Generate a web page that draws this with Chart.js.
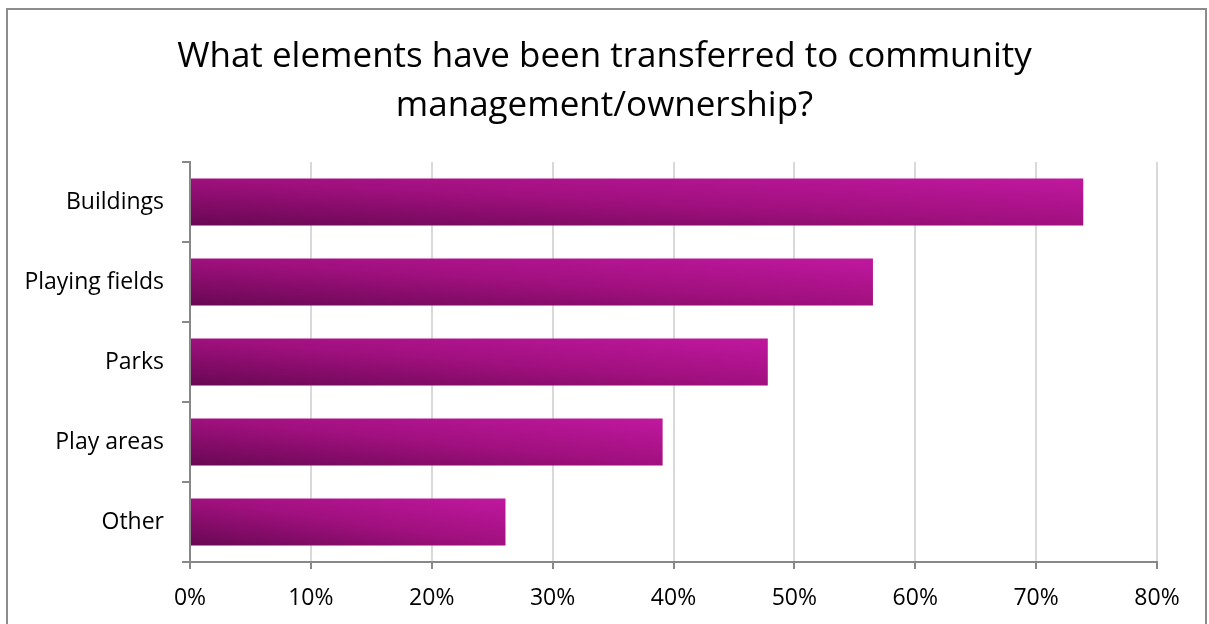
<!DOCTYPE html>
<html lang="en">

<head>
    <meta charset="UTF-8">
    <title>Community management / ownership transfers</title>
    <style>
        html, body { margin: 0; padding: 0; background: #fff; overflow: hidden; }
        #frame {
            position: absolute; left: 6px; top: 8px; width: 1197px; height: 700px;
            border: 2px solid #8c8c8c; pointer-events: none;
        }
        #chart { position: absolute; left: 0; top: 0; }
    </style>
</head>

<body>
    <canvas id="chart" width="1209" height="624"></canvas>
    <div id="frame"></div>

    <script src="https://cdn.jsdelivr.net/npm/chart.js@4/dist/chart.umd.min.js"></script>
    <script>
        const categories = ['Buildings', 'Playing fields', 'Parks', 'Play areas', 'Other'];
        const shares = [73.9, 56.5, 47.8, 39.1, 26.1];   // % of respondents
        const tickValues = [0, 10, 20, 30, 40, 50, 60, 70, 80];

        const FONT = '"Open Sans", "Noto Sans", sans-serif';

        // diagonal shading: dark at the bottom-left corner, bright magenta at top-right
        function barFill(context) {
            const chart = context.chart;
            const xs = chart.scales.x, ys = chart.scales.y;
            if (!xs || !ys || xs.width === undefined) return '#a0107e';
            const v = context.parsed ? context.parsed.x : shares[context.dataIndex];
            const x0 = xs.getPixelForValue(0);
            const x1 = xs.getPixelForValue(v);
            const yc = ys.getPixelForValue(context.dataIndex);
            const half = (ys.height / categories.length) * 0.59 / 2;
            const w = Math.max(x1 - x0, 1), h = half * 2;
            const yb = yc + half;
            const k = 2 / (1 / (w * w) + 1 / (h * h));
            const g = chart.ctx.createLinearGradient(x0, yb, x0 + k / w, yb - k / h);
            g.addColorStop(0, '#680853');
            g.addColorStop(0.5, '#a0107e');
            g.addColorStop(1, '#c0189f');
            return g;
        }

        const ctx = document.getElementById('chart').getContext('2d');
        const chart = new Chart(ctx, {
            type: 'bar',
            data: {
                labels: categories,
                datasets: [{
                    data: shares,
                    backgroundColor: barFill,
                    borderWidth: 0,
                    barPercentage: 0.59,
                    categoryPercentage: 1
                }]
            },
            options: {
                indexAxis: 'y',
                responsive: false,
                devicePixelRatio: 1,
                animation: false,
                layout: { padding: 0 },
                plugins: {
                    legend: { display: false },
                    tooltip: { enabled: false },
                    title: {
                        display: true,
                        text: ['What elements have been transferred to community', 'management/ownership?'],
                        color: '#000',
                        font: { family: FONT, size: 35, weight: 'normal', lineHeight: 1.4 },
                        padding: { top: 33, bottom: 31 }
                    }
                },
                scales: {
                    x: {
                        min: 0,
                        max: 80,
                        afterBuildTicks: (scale) => { scale.ticks = tickValues.map(v => ({ value: v })); },
                        afterFit: (scale) => { scale.height = 62; },
                        ticks: {
                            color: '#000',
                            padding: 16,
                            maxRotation: 0,
                            font: { family: FONT, size: 23 },
                            callback: (v) => v + '%'
                        },
                        grid: { color: '#d9d9d9', lineWidth: 2, tickLength: 7, tickColor: '#888888' },
                        border: { color: '#888888', width: 2 }
                    },
                    y: {
                        afterFit: (scale) => { scale.width = 190; },
                        ticks: {
                            color: '#000',
                            padding: 18,
                            font: { family: FONT, size: 23 }
                        },
                        grid: { drawOnChartArea: false, tickLength: 8, tickColor: '#888888', lineWidth: 2 },
                        border: { color: '#888888', width: 2 }
                    },
                    // empty right-hand gutter so the plot ends short of the frame
                    gutter: {
                        type: 'linear',
                        position: 'right',
                        afterFit: (scale) => { scale.width = 52; },
                        ticks: { display: false },
                        grid: { display: false },
                        border: { display: false }
                    }
                }
            }
        });
    </script>
</body>

</html>
